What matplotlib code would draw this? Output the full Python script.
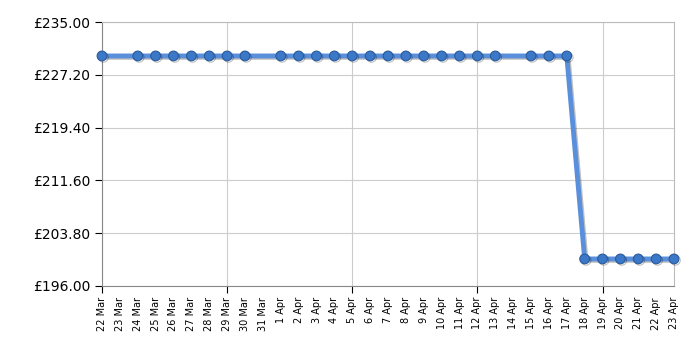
import matplotlib.pyplot as plt
import matplotlib.dates as mdates
import matplotlib.patheffects as pe
import pandas as pd

dates = ['2024-03-22', '2024-03-24', '2024-03-25', '2024-03-26', '2024-03-27',
         '2024-03-28', '2024-03-29', '2024-03-30', '2024-04-01', '2024-04-02',
         '2024-04-03', '2024-04-04', '2024-04-05', '2024-04-06', '2024-04-07',
         '2024-04-08', '2024-04-09', '2024-04-10', '2024-04-11', '2024-04-12',
         '2024-04-13', '2024-04-15', '2024-04-16', '2024-04-17', '2024-04-18',
         '2024-04-19', '2024-04-20', '2024-04-21', '2024-04-22', '2024-04-23']
prices = [229.99] * 24 + [199.99] * 6
yticks = [196.00, 203.80, 211.60, 219.40, 227.20, 235.00]

x = pd.to_datetime(dates)

fig = plt.figure(figsize=(7, 3.5), dpi=100)
ax = fig.add_axes([0.1457, 0.183, 0.8172, 0.754])

shadow = [pe.SimpleLineShadow(offset=(1, -1), alpha=0.25), pe.Normal()]
ax.plot(x, prices, color='#5a8fdc', lw=3.5, zorder=3, path_effects=shadow)
ax.plot(x, prices, ls='none', marker='o', ms=7, mfc='#3b78c8', mec='#2a5a9a',
        mew=0.8, zorder=4, path_effects=shadow, clip_on=False)

ax.set_xlim(pd.Timestamp('2024-03-22'), pd.Timestamp('2024-04-23'))
ax.set_ylim(196, 235)
ax.set_yticks(yticks)
ax.set_yticklabels(['£%.2f' % v for v in yticks], fontsize=10)

# 22 Mar 2024 is a Friday: weekly grid on Fridays
ax.xaxis.set_major_locator(mdates.WeekdayLocator(byweekday=mdates.FR))
ax.xaxis.set_minor_locator(mdates.DayLocator())
ax.xaxis.set_major_formatter(mdates.DateFormatter('%-d %b'))
ax.xaxis.set_minor_formatter(mdates.DateFormatter('%-d %b'))
ax.tick_params(axis='x', which='both', labelrotation=90, labelsize=7, pad=3)
ax.tick_params(axis='x', which='major', length=5)
ax.tick_params(axis='x', which='minor', length=0, pad=8)
ax.tick_params(axis='y', length=5)

ax.grid(True, which='major', color='#cccccc', lw=0.8)
ax.set_axisbelow(True)
for s in ax.spines.values():
    s.set_color('#bbbbbb')
ax.spines['left'].set_color('#888888')
ax.spines['bottom'].set_color('#888888')

fig.savefig('out.png')
